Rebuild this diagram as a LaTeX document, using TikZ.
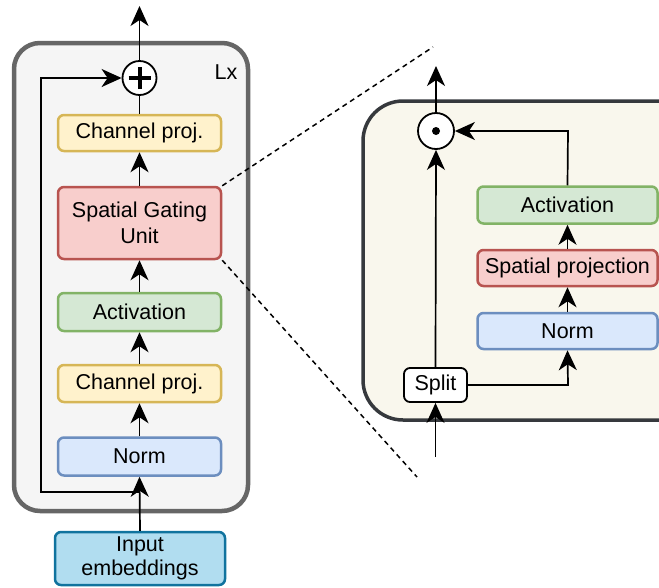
\documentclass[tikz,border=0pt]{standalone}
\usepackage{fontspec}
\setmainfont{Liberation Sans}
\usetikzlibrary{arrows.meta}
\definecolor{contfill}{HTML}{F5F5F5}
\definecolor{contline}{HTML}{666666}
\definecolor{zoomfill}{HTML}{F9F7ED}
\definecolor{zoomline}{HTML}{36393D}
\definecolor{yelfill}{HTML}{FFF2CC}
\definecolor{yelline}{HTML}{D6B656}
\definecolor{redfill}{HTML}{F8CECC}
\definecolor{redline}{HTML}{B85450}
\definecolor{grnfill}{HTML}{D5E8D4}
\definecolor{grnline}{HTML}{82B366}
\definecolor{blufill}{HTML}{DAE8FC}
\definecolor{bluline}{HTML}{6C8EBF}
\definecolor{embfill}{HTML}{B1DDF0}
\definecolor{embline}{HTML}{10739E}
\tikzset{
  txt/.style={font=\fontsize{21.5}{26}\selectfont, text=black},
  blk/.style={txt, draw, rounded corners=6pt, line width=2.5pt, align=center, inner sep=0pt},
  lblk/.style={blk, minimum width=163pt},
  rblk/.style={blk, minimum width=180pt},
  yel/.style={fill=yelfill, draw=yelline},
  red/.style={fill=redfill, draw=redline},
  grn/.style={fill=grnfill, draw=grnline},
  blu/.style={fill=blufill, draw=bluline},
  conn/.style={line width=1.7pt, draw=black},
  arr/.style={conn, -{Stealth[length=20pt,width=18pt,inset=6pt]}},
  zoomline/.style={line width=1.5pt, dash pattern=on 5pt off 4pt},
}
\begin{document}
\begin{tikzpicture}[x=1pt,y=-1pt]
\useasboundingbox (0,0) rectangle (659,587);
\clip (0,0) rectangle (659,587);

% repeated block
\draw[line width=4.5pt, draw=contline, fill=contfill, rounded corners=26pt]
  (14,43) rectangle (248,511);
\node[txt, anchor=center] (lx) at (226,72) {Lx};

\node[lblk, yel, minimum height=36pt] (chtop) at (139.5,133) {Channel proj.};
\node[lblk, red, minimum height=72pt] (sgu) at (139.5,223) {Spatial Gating\\Unit};
\node[lblk, grn, minimum height=38pt] (act) at (139.5,312) {Activation};
\node[lblk, yel, minimum height=37pt] (chbot) at (139.5,383.5) {Channel proj.};
\node[lblk, blu, minimum height=38pt] (norm) at (139.5,456.5) {Norm};
\node[blk, minimum width=170pt, minimum height=53pt, fill=embfill, draw=embline]
  (inp) at (140,558.5) {Input\\[-2pt]embeddings};

\node[circle, draw, line width=1.8pt, fill=white, minimum size=34pt, inner sep=0pt]
  (plus) at (139.5,78) {};
\draw[line width=4pt] ([xshift=-11pt]plus.center) -- ([xshift=11pt]plus.center);
\draw[line width=4pt] ([yshift=-11pt]plus.center) -- ([yshift=11pt]plus.center);

\coordinate (out) at (139.5,6);
\coordinate (skip) at (139.5,492);
\coordinate (skipl) at (41,492);
\coordinate (skipt) at (41,78);

\draw[arr] (inp.north) -- (norm.south);
\draw[arr] (norm.north) -- (chbot.south);
\draw[arr] (chbot.north) -- (act.south);
\draw[arr] (act.north) -- (sgu.south);
\draw[arr] (sgu.north) -- (chtop.south);
\draw[conn] (chtop.north) -- (plus.south);
\draw[arr] (plus.north) -- (out);
\draw[arr] (skip) -- (skipl) -- (skipt) -- (plus.west);

% gating unit detail
\draw[line width=3.5pt, draw=zoomline, fill=zoomfill, rounded corners=40pt]
  (363,101) rectangle (700,420);

\node[rblk, grn, minimum height=37pt] (act2) at (567.5,205) {Activation};
\node[rblk, red, minimum height=36pt] (spat) at (567.5,268) {Spatial projection};
\node[rblk, blu, minimum height=36pt] (norm2) at (567.5,331) {Norm};
\node[blk, fill=white, draw=black, line width=1.8pt, minimum width=63pt, minimum height=34pt]
  (split) at (435.5,385) {Split};

\node[circle, draw, line width=1.8pt, fill=white, minimum size=36pt, inner sep=0pt]
  (dot) at (436,131) {};
\fill (dot.center) circle (4pt);

\coordinate (in2) at (435.5,457);
\coordinate (out2) at (436,66);
\coordinate (splr) at (568,385);
\coordinate (actt) at (568,131);

\draw[arr] (in2) -- (split.south);
\draw[arr] (split.north) -- (dot.south);
\draw[arr] (split.east) -- (splr) -- (norm2.south);
\draw[arr] (norm2.north) -- (spat.south);
\draw[arr] (spat.north) -- (act2.south);
\draw[arr] (act2.north) -- (actt) -- (dot.east);
\draw[arr] (dot.north) -- (out2);

% zoom guides
\coordinate (zt) at (433,47);
\coordinate (zb) at (417,477);
\draw[zoomline] (sgu.north east) -- (zt);
\draw[zoomline] (sgu.south east) -- (zb);
\end{tikzpicture}
\end{document}
